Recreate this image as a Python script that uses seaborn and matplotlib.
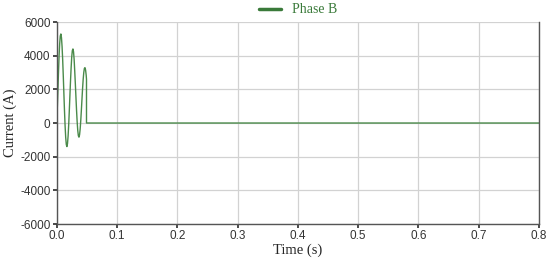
import numpy as np
import pandas as pd
import matplotlib
matplotlib.use("Agg")
import matplotlib.pyplot as plt
import seaborn as sns

# ------------------------------
# Data (1 ms steps for the fault transient)
# ------------------------------
time_s = [0.000, 0.001, 0.002, 0.003, 0.004, 0.005, 0.006, 0.007, 0.008, 0.009,
          0.010, 0.011, 0.012, 0.013, 0.014, 0.015, 0.016, 0.017, 0.018, 0.019,
          0.020, 0.021, 0.022, 0.023, 0.024, 0.025, 0.026, 0.027, 0.028, 0.029,
          0.030, 0.031, 0.032, 0.033, 0.034, 0.035, 0.036, 0.037, 0.038, 0.039,
          0.040, 0.041, 0.042, 0.043, 0.044, 0.045, 0.046, 0.047, 0.048, 0.049,
          0.0495, 0.0495, 0.800]
current_b = [0, 800, 1860, 2974, 3955, 4709, 5168, 5290, 5071, 4539,
             3752, 2790, 1750, 734, -160, -850, -1275, -1400, -1223, -768,
             -88, 743, 1640, 2513, 3277, 3920, 4300, 4400, 4230, 3780,
             3073, 2329, 1530, 755, 78, -439, -753, -840, -701, -357,
             150, 764, 1420, 2052, 2598, 3007, 3244, 3290, 3148, 2837,
             2600, 0, 0]

x_ticks = [0.0, 0.1, 0.2, 0.3, 0.4, 0.5, 0.6, 0.7, 0.8]
y_ticks = [-6000, -4000, -2000, 0, 2000, 4000, 6000]

df = pd.DataFrame({"Time (s)": time_s, "Current (A)": current_b})

sns.set_theme(style="white")
plt.rcParams["font.family"] = ["Liberation Sans", "DejaVu Sans"]

fig = plt.figure(figsize=(5.5, 2.59), dpi=100)
ax = fig.add_axes([0.103, 0.135, 0.877, 0.78])

sns.lineplot(data=df, x="Time (s)", y="Current (A)", color="#4a8a4a",
             linewidth=1.0, label="Phase B", ax=ax, sort=False,
             estimator=None, errorbar=None)

ax.set_xlim(0, 0.8)
ax.set_ylim(-6000, 6000)
ax.set_xticks(x_ticks)
ax.set_yticks(y_ticks)
ax.set_xticklabels([f"{v:.1f}" for v in x_ticks])
ax.set_yticklabels([str(v) for v in y_ticks])
ax.tick_params(axis="both", labelsize=8.5, colors="#333333", length=3,
               direction="out", bottom=True, left=True, pad=1.5)

ax.grid(True, color="#d2d2d2", linewidth=0.9)
for side in ["left", "bottom", "right"]:
    ax.spines[side].set_color("#555555")
    ax.spines[side].set_linewidth(1.0)
ax.spines["top"].set_visible(False)

serif = ["Liberation Serif", "DejaVu Serif"]
ax.set_xlabel("Time (s)", fontsize=10.5, family=serif, labelpad=1)
ax.set_ylabel("Current (A)", fontsize=10.5, family=serif, labelpad=2)

leg = ax.legend(loc="lower center", bbox_to_anchor=(0.5, 1.0), frameon=False,
                prop={"family": serif, "size": 10}, handlelength=1.6,
                borderaxespad=0.0)
for txt in leg.get_texts():
    txt.set_color("#3a7a3a")
for line in leg.get_lines():
    line.set_linewidth(2.5)
    line.set_color("#3a7a3a")

fig.savefig("out.png", dpi=100)
